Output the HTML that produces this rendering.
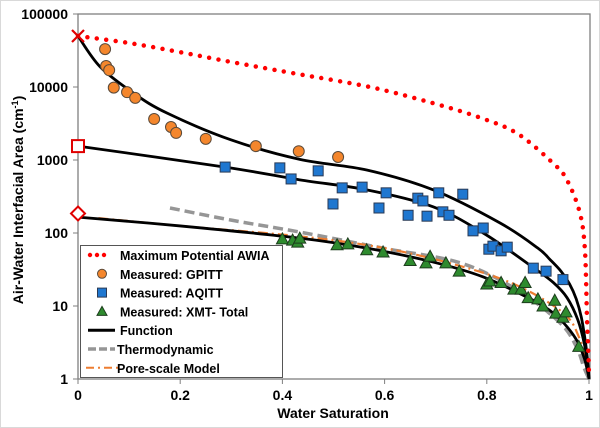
<!DOCTYPE html>
<html><head><meta charset="utf-8"><style>
body{margin:0;background:#fff;}
svg{display:block;font-family:"Liberation Sans",Arial,sans-serif;}
</style></head><body>
<svg id="chart" width="600" height="428" viewBox="0 0 600 428">
<rect x="0.5" y="0.5" width="599" height="427" fill="#fff" stroke="#d9d9d9"/>
<g id="plot"></g>
</svg>
<script>
const satGPITT=[0.053,0.055,0.061,0.070,0.096,0.112,0.149,0.182,0.192,0.250,0.348,0.432,0.509];
const awiaGPITT=[33000,19400,17000,9800,8500,7100,3640,2830,2350,1950,1550,1320,1100];
const satAQITT=[0.288,0.395,0.417,0.470,0.517,0.556,0.499,0.603,0.589,0.646,0.665,0.675,0.683,0.706,0.714,0.726,0.753,0.773,0.793,0.804,0.812,0.828,0.840,0.891,0.916,0.949];
const awiaAQITT=[800,780,550,710,415,425,250,355,220,175,300,275,170,355,195,175,340,107,117,60,66,57,64,33,30,23];
const satXMT=[0.400,0.420,0.430,0.434,0.507,0.528,0.565,0.597,0.650,0.681,0.689,0.720,0.746,0.800,0.806,0.828,0.853,0.867,0.875,0.881,0.900,0.910,0.933,0.935,0.949,0.955,0.980];
const awiaXMT=[83,80,75,85,69,71,59,55,42,39,48,39,30,20,22,21,17,17,21,13,12.5,10,12,8,7,8.3,2.8];
const satMax=[0,0.10,0.20,0.30,0.42,0.571,0.695,0.787,0.86,0.93,0.957,0.982,0.992,0.996,0.999,1.0];
const awiaMax=[50000,40000,30000,22000,15500,10000,6000,3800,2300,900,530,190,59,7,2,1];
const satF1=[0,0.043,0.108,0.174,0.30,0.434,0.565,0.695,0.826,0.90,0.924,0.945,0.962,0.975,0.985,0.993,0.998,1.0];
const awiaF1=[50000,19000,8300,4400,1880,1020,730,390,137,62,43,30,20,12.5,7,3.2,1.6,1];
const satF2=[0,0.288,0.434,0.565,0.695,0.793,0.89,0.93,0.957,0.978,0.991,0.998,1.0];
const awiaF2=[1550,800,535,390,228,100,34,21,13,6.5,3,1.4,1];
const satF3=[0,0.20,0.434,0.565,0.695,0.793,0.89,0.93,0.957,0.978,0.991,0.998,1.0];
const awiaF3=[165,125,85,62,40,25,12,8,5.2,3.2,1.9,1.2,1];
const satThermo=[0.18,0.30,0.434,0.597,0.748,0.86,0.943,0.975,0.99,1.0];
const awiaThermo=[220,150,103,62,39,16.5,5.9,2.8,1.45,1];
const satPore=[0.04,0.20,0.434,0.60,0.75,0.86,0.95,0.98,0.993,1.0];
const awiaPore=[160,125,90,62,35,19,8,3.8,1.8,1];
const xTicks=[0,0.2,0.4,0.6,0.8,1];
const xTickLabels=["0","0.2","0.4","0.6","0.8","1"];
const yTicks=[1,10,100,1000,10000,100000];
const yTickLabels=["1","10","100","1000","10000","100000"];

const NS="http://www.w3.org/2000/svg";
const X0=78,X1=589,Y0=379,DEC=73;
function xs(s){return X0+(X1-X0)*s;}
function ys(v){return Y0-DEC*Math.log10(v);}
const g=document.getElementById('plot');
function mk(tag,at,parent){const e=document.createElementNS(NS,tag);for(const k in at)e.setAttribute(k,at[k]);(parent||g).appendChild(e);return e;}
function pathD(sx,sy){
  const p=sx.map((s,i)=>[xs(s),ys(sy[i])]);
  let d=`M${p[0][0]},${p[0][1]}`;
  for(let i=0;i<p.length-1;i++){
    const a=p[Math.max(0,i-1)],b=p[i],c=p[i+1],e=p[Math.min(p.length-1,i+2)];
    const c1=[b[0]+(c[0]-a[0])/6,b[1]+(c[1]-a[1])/6],c2=[c[0]-(e[0]-b[0])/6,c[1]-(e[1]-b[1])/6];
    d+=` C${c1[0]},${c1[1]} ${c2[0]},${c2[1]} ${c[0]},${c[1]}`;
  }
  return d;
}
let fr=mk('rect',{x:X0,y:14,width:X1-X0+1,height:Y0-14,fill:'none',stroke:'#7f7f7f','stroke-width':1.3});


xTicks.forEach((t,i)=>{
  const l=mk('line',{x1:xs(t),x2:xs(t),y1:Y0,y2:Y0+5,stroke:'#7f7f7f'});
  
  
  const tx=mk('text',{x:xs(t),y:Y0+21,'text-anchor':'middle','font-size':14,'font-weight':'bold',fill:'#000'});
  tx.textContent=xTickLabels[i];
  
  
});
yTicks.forEach((t,i)=>{
  const l=mk('line',{x1:X0-5,x2:X0,y1:ys(t),y2:ys(t),stroke:'#7f7f7f'});
  
  
  const tx=mk('text',{x:X0-10,y:ys(t)+5,'text-anchor':'end','font-size':14,'font-weight':'bold',fill:'#000'});
  tx.textContent=yTickLabels[i];
  
  
});
let xt=mk('text',{x:333,y:418,'text-anchor':'middle','font-size':14,'font-weight':'bold'});
xt.textContent='Water Saturation';


let yt=mk('text',{x:0,y:0,'text-anchor':'middle','font-size':14,'font-weight':'bold',transform:'translate(23,200) rotate(-90)'});
yt.innerHTML='Air-Water Interfacial Area (cm<tspan dy="-5" font-size="9">-1</tspan><tspan dy="5">)</tspan>';



function line(sx,sy,st,name){const p=mk('path',Object.assign({d:pathD(sx,sy),fill:'none'},st));}
line(satThermo,awiaThermo,{stroke:'#969696','stroke-width':3.5,'stroke-dasharray':'10 5'},'thermodynamic-line');
line(satPore,awiaPore,{stroke:'#ed7d31','stroke-width':2.2,'stroke-dasharray':'10 4 2 4'},'pore-scale-line');
line(satF1,awiaF1,{stroke:'#000','stroke-width':2.8},'function-line-gpitt');
line(satF2,awiaF2,{stroke:'#000','stroke-width':2.8},'function-line-aqitt');
line(satF3,awiaF3,{stroke:'#000','stroke-width':2.8},'function-line-xmt');
line(satMax,awiaMax,{stroke:'#ff0000','stroke-width':4.5,'stroke-dasharray':'0 9.5','stroke-linecap':'round'},'max-potential-line');

satGPITT.forEach((s,i)=>{const c=mk('circle',{cx:xs(s),cy:ys(awiaGPITT[i]),r:5.5,fill:'#f4862c',stroke:'#5a4a3a','stroke-width':1});
});
satAQITT.forEach((s,i)=>{const c=mk('rect',{x:xs(s)-5,y:ys(awiaAQITT[i])-5,width:10,height:10,fill:'#1f77d0',stroke:'#2a3a55','stroke-width':1});
});
satXMT.forEach((s,i)=>{const x=xs(s),y=ys(awiaXMT[i]);const c=mk('polygon',{points:`${x},${y-6} ${x+6},${y+5} ${x-6},${y+5}`,fill:'#2e8b2e',stroke:'#1d3d1d','stroke-width':1});
});

let m1=mk('path',{d:`M${X0-6},${ys(50000)-6} L${X0+6},${ys(50000)+6} M${X0+6},${ys(50000)-6} L${X0-6},${ys(50000)+6}`,stroke:'#e00000','stroke-width':2.2,fill:'none'});

let m2=mk('rect',{x:X0-6,y:ys(1550)-6,width:12,height:12,fill:'#fff',stroke:'#e00000','stroke-width':2});

let m3=mk('polygon',{points:`${X0},${ys(185)-7} ${X0+7},${ys(185)} ${X0},${ys(185)+7} ${X0-7},${ys(185)}`,fill:'#fff',stroke:'#e00000','stroke-width':2});


const lg=mk('g',{});


mk('rect',{x:80.5,y:245.5,width:202,height:132,fill:'#fff',stroke:'#555','stroke-width':1},lg);
const labels=['Maximum Potential AWIA','Measured: GPITT','Measured: AQITT','Measured: XMT- Total','Function','Thermodynamic','Pore-scale Model'];
const names=['legend-max-potential','legend-gpitt','legend-aqitt','legend-xmt','legend-function','legend-thermodynamic','legend-pore-scale'];
labels.forEach((t,i)=>{
  const y=255+i*18.8;
  const e=mk('g',{},lg);
  
  
  const lx=i>=5?117:120;
  if(i==0){[90,97,104].forEach(x=>mk('circle',{cx:x,cy:y,r:2.2,fill:'#ff0000'},e));}
  if(i==1)mk('circle',{cx:102,cy:y,r:4.5,fill:'#f4862c',stroke:'#5a4a3a'},e);
  if(i==2)mk('rect',{x:97.5,y:y-4.5,width:9,height:9,fill:'#1f77d0',stroke:'#2a3a55'},e);
  if(i==3)mk('polygon',{points:`102,${y-5} 107,${y+4} 97,${y+4}`,fill:'#2e8b2e',stroke:'#1d3d1d'},e);
  if(i==4)mk('line',{x1:88,x2:115,y1:y,y2:y,stroke:'#000','stroke-width':3},e);
  if(i==5)mk('line',{x1:88,x2:115,y1:y,y2:y,stroke:'#969696','stroke-width':3.5,'stroke-dasharray':'8 3'},e);
  if(i==6)mk('line',{x1:86,x2:118,y1:y,y2:y,stroke:'#ed7d31','stroke-width':2,'stroke-dasharray':'8 4 2 4'},e);
  const tx=mk('text',{x:lx,y:y+5,'font-size':12.5,'font-weight':'bold',fill:'#000'},e);
  tx.textContent=t;
});
</script>
</body></html>
